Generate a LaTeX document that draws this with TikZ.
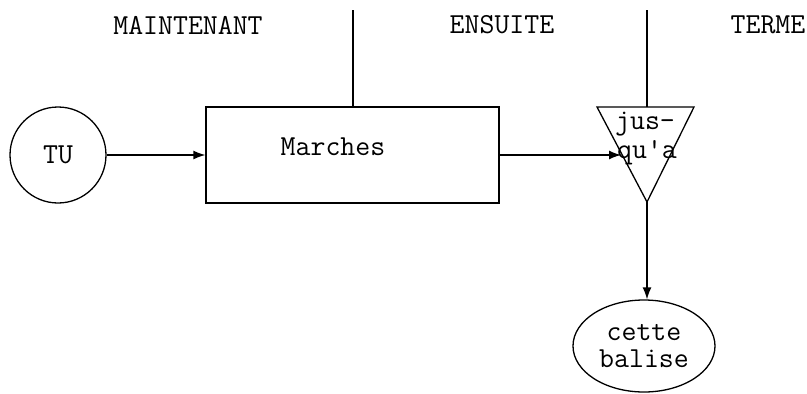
\documentclass[tikz,border=0pt]{standalone}
\usepackage{fontspec}
\usetikzlibrary{shapes.geometric,arrows.meta}
\begin{document}
\begin{tikzpicture}[x=1pt,y=-1pt,
  every node/.style={font=\ttfamily\fontsize{29}{27}\selectfont, inner sep=0pt},
  line width=1.3pt,
  arr/.style={-{Latex[length=12pt,width=9pt]}}]
\useasboundingbox (0,0) rectangle (807,394);
% column labels
\node (l1) at (188,25) {MAINTENANT};
\node (l2) at (502,25) {ENSUITE};
\node (l3) at (768,25) {TERME};
% TU circle
\node (tu) [circle, draw, minimum size=96pt] at (58,155) {TU};
% Marches box
\node (m) [draw, rectangle, minimum width=293pt, minimum height=96pt] at (352.5,155) {};
\node (mt) at (333,147) {Marches};
% triangle
\coordinate (tl) at (597,107);
\coordinate (tr) at (694,107);
\coordinate (tb) at (647,202);
\draw (tl) -- (tr) -- (tb) -- cycle;
\node (j1) at (645,124) {jus-};
\node (j2) at (647,153) {qu'a};
\coordinate (tin) at (621,155);
% ellipse
\node (cb) [ellipse, draw, minimum width=142pt, minimum height=92pt, align=center] at (644,346) {cette\\balise};
% separators
\coordinate (v1) at (353,10);
\coordinate (v2) at (647,10);
\draw (v1) -- (v1 |- m.north);
\draw (v2) -- (v2 |- tl);
% connectors
\draw[arr] (tu.east) -- (m.west);
\draw[arr] (m.east) -- (tin);
\draw[arr] (tb) -- (tb |- cb.north);
\end{tikzpicture}
\end{document}
